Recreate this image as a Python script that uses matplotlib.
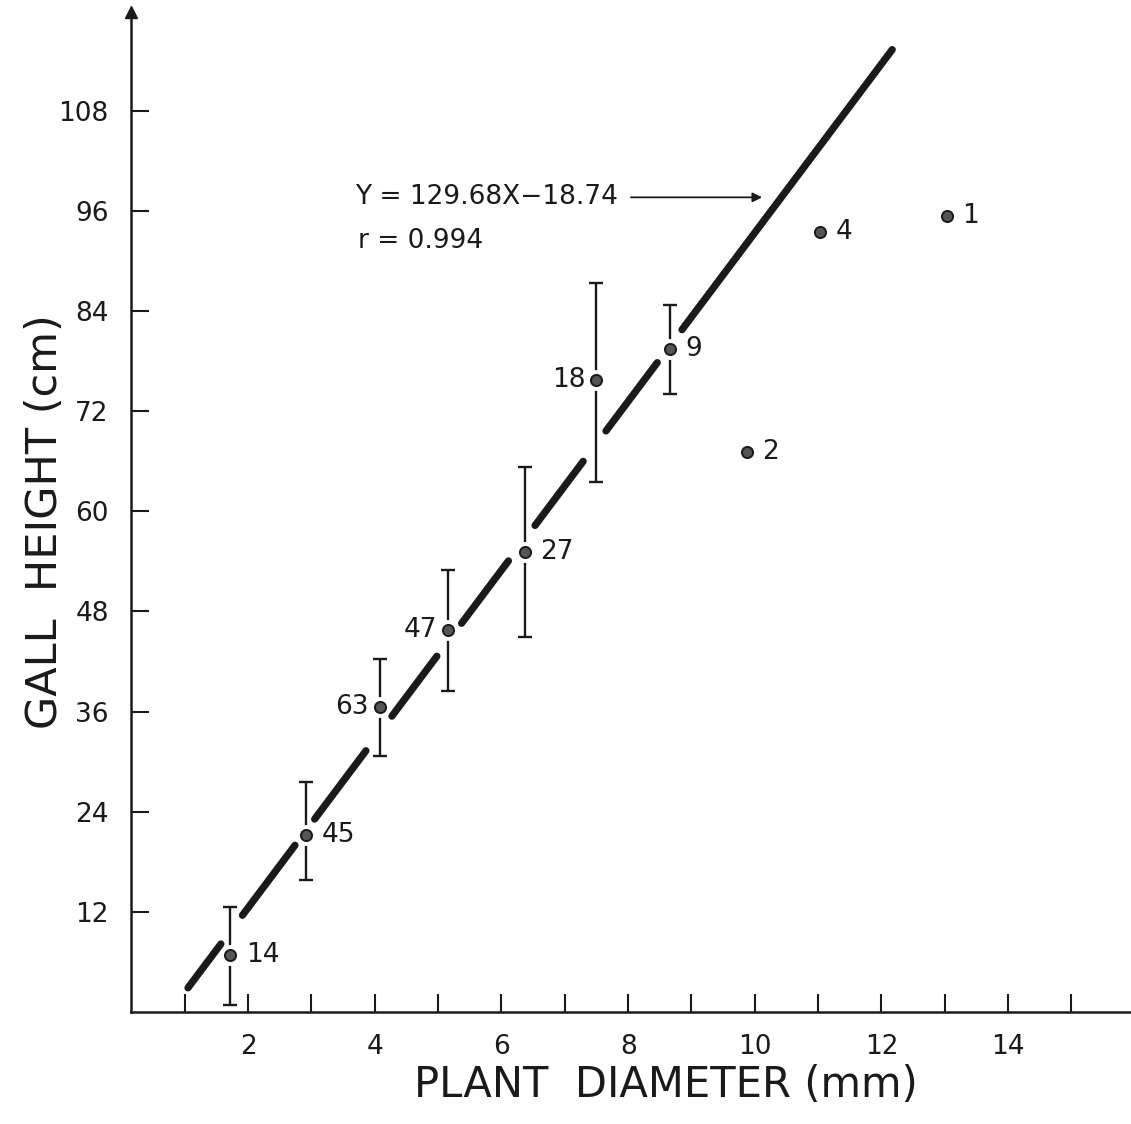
import matplotlib
matplotlib.use("Agg")
import matplotlib.pyplot as plt

# group means (plant diameter mm, gall height cm) with range bars and sample sizes
diam = [1.72, 2.92, 4.08, 5.16, 6.37, 7.50, 8.66, 9.87, 11.03, 13.03]
height = [6.8, 21.2, 36.5, 45.8, 55.1, 75.7, 79.4, 67.1, 93.5, 95.4]
err_hi = [12.6, 27.5, 42.3, 52.9, 65.3, 87.3, 84.7, None, None, None]
err_lo = [0.8, 15.8, 30.7, 38.5, 44.9, 63.5, 74.0, None, None, None]
n_lab = ["14", "45", "63", "47", "27", "18", "9", "2", "4", "1"]
lab_side = ["r", "r", "l", "l", "r", "l", "r", "r", "r", "r"]

# fitted line, drawn broken where it passes the bars
fit_x = [1.05, 12.17]
fit_y = [2.9, 115.3]
fit_pieces = [(1.05, 1.57), (1.91, 2.74), (3.05, 3.86), (4.27, 4.98),
              (5.37, 6.11), (6.53, 7.29), (7.65, 8.46), (8.85, 12.17)]

xticks = list(range(1, 16))
yticks = list(range(12, 109, 12))

plt.rcParams["font.family"] = "DejaVu Sans"
ink = "#1a1a1a"

fig = plt.figure(figsize=(11.31, 11.24), dpi=100)
ax = fig.add_axes([0.1158, 0.0996, 0.8842, 0.8897])
ax.set_xlim(0.15, 15.94)
ax.set_ylim(0, 119.8)

slope = (fit_y[1] - fit_y[0]) / (fit_x[1] - fit_x[0])
for a, b in fit_pieces:
    ax.plot([a, b], [fit_y[0] + slope * (a - fit_x[0]), fit_y[0] + slope * (b - fit_x[0])],
            color=ink, lw=5.2, solid_capstyle="round", zorder=2)

for x, y, hi, lo in zip(diam, height, err_hi, err_lo):
    if hi is None:
        continue
    ax.errorbar([x], [y], yerr=[[y - lo], [hi - y]], fmt="none", ecolor=ink,
                elinewidth=1.7, capsize=5, capthick=1.7, zorder=3)

# white halo then the dot
ax.plot(diam, height, "o", ms=14, color="white", zorder=4)
ax.plot(diam, height, "o", ms=8, mfc="#555555", mec=ink, mew=1.4, zorder=5)

for x, y, t, s in zip(diam, height, n_lab, lab_side):
    if s == "r":
        ax.annotate(t, (x, y), xytext=(11, 0), textcoords="offset points",
                    ha="left", va="center", fontsize=19, color=ink)
    else:
        ax.annotate(t, (x, y), xytext=(-8, 0), textcoords="offset points",
                    ha="right", va="center", fontsize=19, color=ink)

ax.annotate("", xy=(10.16, 97.6), xytext=(8.0, 97.6),
            arrowprops=dict(arrowstyle="-|>", color=ink, lw=1.3, mutation_scale=14))
ax.text(3.69, 97.6, "Y = 129.68X\u221218.74", ha="left", va="center",
        fontsize=19, color=ink)
ax.text(3.73, 92.4, "r = 0.994", ha="left", va="center", fontsize=19, color=ink)

ax.spines["top"].set_visible(False)
ax.spines["right"].set_visible(False)
for s in ("left", "bottom"):
    ax.spines[s].set_linewidth(1.8)
    ax.spines[s].set_color(ink)
ax.plot([0], [1], marker="^", ms=9, color=ink, transform=ax.transAxes,
        clip_on=False, zorder=6)

ax.set_xticks(xticks)
ax.set_xticklabels([str(t) if t % 2 == 0 and t <= 14 else "" for t in xticks])
ax.set_yticks(yticks)
ax.tick_params(direction="in", length=13, width=1.5, color=ink,
               labelsize=19, labelcolor=ink)
ax.tick_params(axis="x", pad=16)
ax.tick_params(axis="y", pad=16)

ax.text(0.535, -0.073, "PLANT  DIAMETER (mm)", transform=ax.transAxes,
        ha="center", va="center", fontsize=30, color=ink)
ax.text(-0.086, 0.49, "GALL  HEIGHT (cm)", transform=ax.transAxes, rotation=90,
        ha="center", va="center", fontsize=31, color=ink)

fig.savefig("out.png", dpi=100)
